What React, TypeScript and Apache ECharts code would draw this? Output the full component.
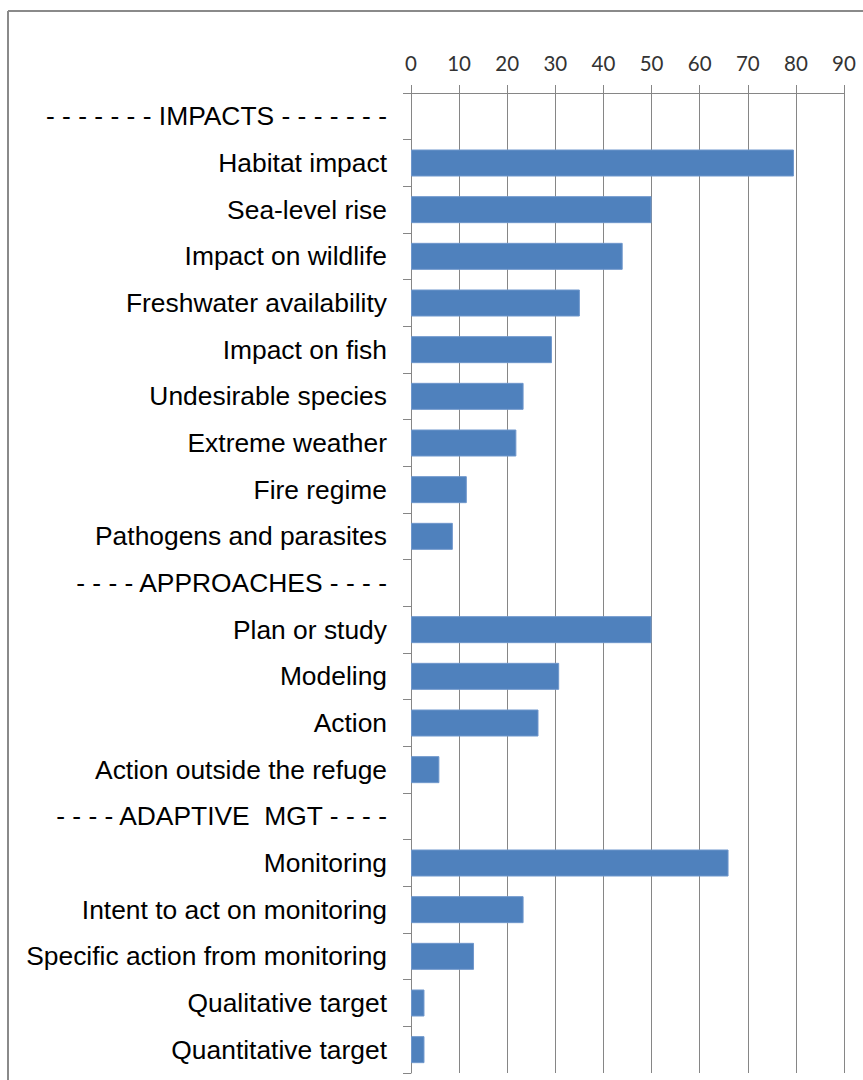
import React, { useEffect, useRef } from "react";
import * as echarts from "echarts";

const impactLabels = [
  "Habitat impact",
  "Sea-level rise",
  "Impact on wildlife",
  "Freshwater availability",
  "Impact on fish",
  "Undesirable species",
  "Extreme weather",
  "Fire regime",
  "Pathogens and parasites",
];
const impactValues = [79.6, 50.0, 44.0, 35.1, 29.3, 23.4, 21.9, 11.6, 8.7];

const approachLabels = ["Plan or study", "Modeling", "Action", "Action outside the refuge"];
const approachValues = [50.0, 30.8, 26.5, 5.9];

const adaptiveLabels = [
  "Monitoring",
  "Intent to act on monitoring",
  "Specific action from monitoring",
  "Qualitative target",
  "Quantitative target",
];
const adaptiveValues = [66.0, 23.4, 13.1, 2.8, 2.8];

const headerImpacts = "- - - - - - - IMPACTS - - - - - - -";
const headerApproaches = "- - - - APPROACHES - - - -";
const headerAdaptive = "- - - - ADAPTIVE  MGT - - - -";

const xTicks = [0, 10, 20, 30, 40, 50, 60, 70, 80, 90];

const categories = [
  headerImpacts,
  ...impactLabels,
  headerApproaches,
  ...approachLabels,
  headerAdaptive,
  ...adaptiveLabels,
];
const values: (number | null)[] = [
  null,
  ...impactValues,
  null,
  ...approachValues,
  null,
  ...adaptiveValues,
];

export default function App() {
  const ref = useRef<HTMLDivElement>(null);
  useEffect(() => {
    if (!ref.current) return;
    const chart = echarts.init(ref.current, null, { renderer: "svg" });
    const gray = "#868686";
    chart.setOption({
      animation: false,
      backgroundColor: "#ffffff",
      grid: { left: 411, right: 19, top: 93, bottom: 7, containLabel: false },
      xAxis: {
        type: "value",
        position: "top",
        min: xTicks[0],
        max: xTicks[xTicks.length - 1],
        interval: 10,
        axisLine: { show: true, lineStyle: { color: gray, width: 1 } },
        axisTick: { show: true, length: 8, lineStyle: { color: gray } },
        splitLine: { show: true, lineStyle: { color: gray, width: 1 } },
        axisLabel: {
          fontFamily: "Lato, 'Liberation Sans', sans-serif",
          fontSize: 20.5,
          color: "#333333",
          margin: 20,
        },
      },
      yAxis: {
        type: "category",
        inverse: true,
        data: categories,
        axisLine: { show: true, lineStyle: { color: gray, width: 1 } },
        axisTick: { show: true, length: 8, lineStyle: { color: gray } },
        splitLine: { show: false },
        axisLabel: {
          fontFamily: "'Liberation Sans', Arial, sans-serif",
          fontSize: 26.4,
          color: "#000000",
          margin: 24,
          interval: 0,
        },
      },
      series: [
        {
          type: "bar",
          data: values,
          barWidth: 27,
          itemStyle: { color: "#4F81BD", borderColor: "#6F97CC", borderWidth: 1 },
        },
      ],
      graphic: [
        {
          type: "line",
          shape: { x1: 8, y1: 11, x2: 863, y2: 11 },
          style: { stroke: "#8a8a8a", lineWidth: 2 },
        },
        {
          type: "line",
          shape: { x1: 8, y1: 11, x2: 8, y2: 1080 },
          style: { stroke: "#8a8a8a", lineWidth: 2 },
        },
      ],
    });
    return () => chart.dispose();
  }, []);
  return (
    <div
      ref={ref}
      style={{ position: "fixed", left: 0, top: 0, width: 863, height: 1080 }}
    />
  );
}
